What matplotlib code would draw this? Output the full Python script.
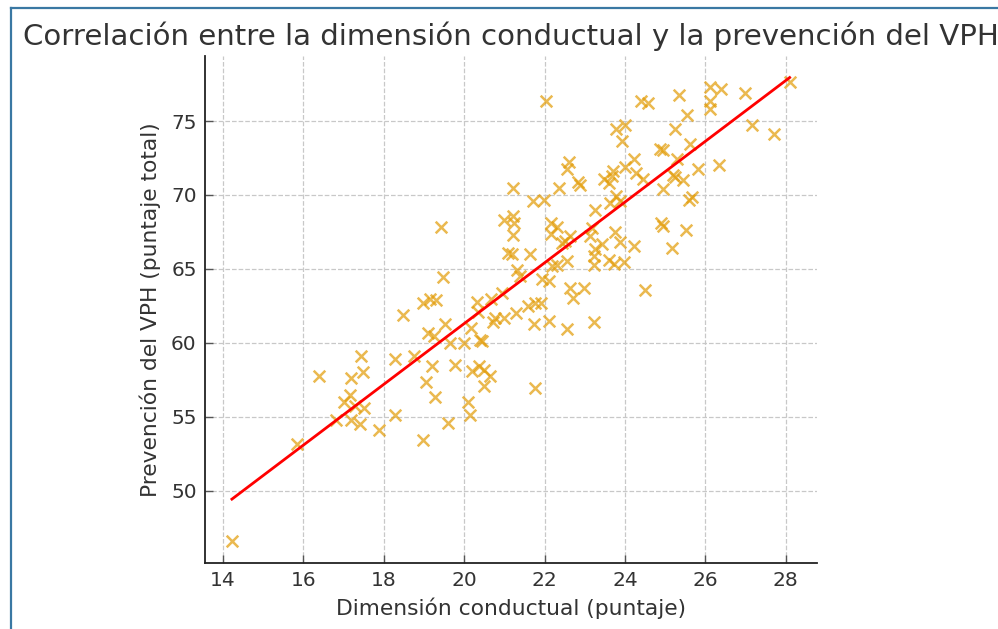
import numpy as np
import matplotlib
matplotlib.use("Agg")
import matplotlib.pyplot as plt
from matplotlib.lines import Line2D

# --- data ---
dimension_conductual = [
    14.22, 15.84, 16.38, 16.81, 17.02, 17.17, 17.18, 17.18, 17.29, 17.40,
    17.44, 17.48, 17.50, 17.88, 18.29, 18.29, 18.47, 18.74, 18.97, 19.04,
    18.98, 19.16, 19.30, 19.11, 19.24, 19.20, 19.28, 19.43, 19.48, 19.53,
    19.59, 19.65, 19.78,
    20.00, 20.10, 20.15, 20.17, 20.19, 20.33, 20.35, 20.36, 20.40, 20.44,
    20.50, 20.50, 20.65, 20.66, 20.71, 20.77, 20.94, 20.98, 21.00, 21.21,
    21.22, 21.23, 21.22, 21.10, 21.20, 21.29, 21.31, 21.39,
    21.64, 21.71, 21.99, 22.03, 21.60, 21.77, 21.90, 21.73, 21.76, 21.93,
    22.10, 22.10, 22.15, 22.32, 22.15, 22.35, 22.19, 22.30, 22.43, 22.52,
    22.56, 22.57, 22.60, 22.64, 22.57, 22.64, 22.70, 22.82, 22.89, 22.97,
    23.13, 23.18, 23.26, 23.22, 23.26, 23.22, 23.22, 23.43, 23.47, 23.60,
    23.68, 23.70, 23.60, 23.72, 23.75, 23.79, 23.87, 23.79, 24.01, 23.92,
    23.87, 23.97, 24.00, 24.22, 24.22, 24.28, 24.39, 24.46, 24.50, 24.58,
    23.63,
    24.88, 24.94, 24.94, 24.91, 24.94, 25.16, 25.20, 25.25, 25.25, 25.29,
    25.35, 25.45, 25.52, 25.55, 25.62, 25.60, 25.68, 25.81, 26.12, 26.12,
    26.12, 26.33, 26.39, 26.99, 27.15, 27.70, 28.10,
]
prevencion_vph = [
    46.60, 53.17, 57.78, 54.75, 56.00, 56.45, 57.60, 54.75, 55.74, 54.52,
    59.10, 58.05, 55.60, 54.07, 58.93, 55.13, 61.90, 59.10, 53.45, 57.33,
    62.72, 62.95, 62.90, 60.65, 60.47, 58.41, 56.30, 67.85, 64.47, 61.30,
    54.55, 59.97, 58.52,
    59.99, 56.00, 55.08, 60.97, 58.10, 62.74, 62.07, 58.43, 60.22, 60.10,
    58.18, 57.05, 57.75, 62.93, 61.41, 61.69, 63.38, 61.69, 68.33, 70.49,
    68.60, 68.12, 67.30, 66.10, 66.00, 62.03, 64.95, 64.50,
    65.98, 69.61, 69.68, 76.37, 62.47, 62.70, 62.70, 61.28, 56.94, 64.29,
    64.15, 61.46, 68.12, 67.85, 67.38, 70.45, 65.20, 65.25, 66.75, 66.90,
    65.55, 71.75, 72.24, 67.22, 60.90, 63.72, 63.05, 70.88, 70.64, 63.72,
    67.22, 67.79, 68.98, 61.41, 66.32, 65.84, 65.28, 66.66, 71.07, 70.84,
    71.29, 71.62, 65.62, 65.34, 67.49, 69.92, 69.60, 74.49, 74.72, 73.66,
    66.81, 65.43, 71.92, 72.46, 66.55, 71.47, 76.37, 71.07, 63.56, 76.22,
    69.44,
    73.10, 73.05, 70.43, 68.13, 67.90, 66.43, 71.34, 71.20, 74.45, 72.46,
    76.77, 71.04, 67.63, 75.44, 73.44, 69.66, 69.89, 71.75, 77.28, 76.37,
    75.81, 72.02, 77.17, 76.90, 74.76, 74.13, 77.66,
]

title = "Correlación entre la dimensión conductual y la prevención del VPH"
xlabel = "Dimensión conductual (puntaje)"
ylabel = "Prevención del VPH (puntaje total)"
xticks = [14, 16, 18, 20, 22, 24, 26, 28]
yticks = [50, 55, 60, 65, 70, 75]

x = np.array(dimension_conductual)
y = np.array(prevencion_vph)

W, H = 998, 629
fig = plt.figure(figsize=(W / 100, H / 100), dpi=100)
ax = fig.add_axes([205 / W, 1 - 563 / H, (817 - 205) / W, (563 - 56) / H])

text_color = "#333333"

ax.scatter(x, y, marker="x", s=70, linewidths=1.8, color="#E39E0C", alpha=0.72, zorder=3)

slope, intercept = np.polyfit(x, y, 1)
xs = np.array([x.min(), x.max()])
ax.plot(xs, slope * xs + intercept, color="red", linewidth=2, zorder=4)

ax.set_xlim(13.55, 28.78)
ax.set_ylim(45.1, 79.4)
ax.set_xticks(xticks)
ax.set_yticks(yticks)

ax.grid(True, linestyle="--", color="#c8c8c8", linewidth=0.9)
ax.set_axisbelow(True)
for side in ("top", "right"):
    ax.spines[side].set_visible(False)
for side in ("left", "bottom"):
    ax.spines[side].set_color("#222222")
    ax.spines[side].set_linewidth(1.3)

ax.tick_params(axis="both", direction="in", length=6, width=1, color="#555555",
               labelsize=14.5, labelcolor=text_color, pad=6)

ax.set_xlabel(xlabel, fontsize=15.7, color=text_color, labelpad=5)
ax.set_ylabel(ylabel, fontsize=15.7, color=text_color, labelpad=7)
ax.set_title(title, fontsize=21.1, color=text_color, pad=8)

# screenshot frame (left and top edges)
frame_color = "#3a78a3"
fig.add_artist(Line2D([10.5 / W, 10.5 / W], [0, 1 - 8 / H], transform=fig.transFigure,
                      color=frame_color, linewidth=1.6))
fig.add_artist(Line2D([10.5 / W, 1], [1 - 8 / H, 1 - 8 / H], transform=fig.transFigure,
                      color=frame_color, linewidth=1.6))

fig.savefig("out.png", dpi=100)
